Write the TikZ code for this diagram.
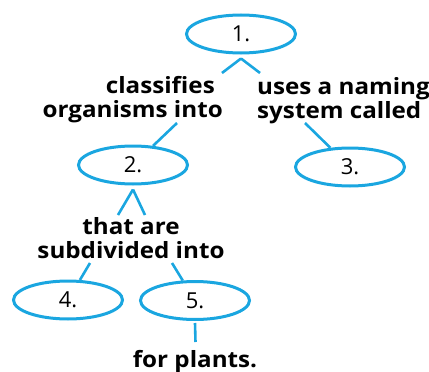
\documentclass[tikz,border=0pt]{standalone}
\usepackage{fontspec}
\setmainfont{Open Sans}[BoldFont={Open Sans Bold}]
\newfontfamily\labfont{Open Sans}[UprightFont={Open Sans Bold},FakeStretch=1.08]
\usetikzlibrary{shapes.geometric}
\definecolor{cblue}{HTML}{1AA6E0}
\begin{document}
\begin{tikzpicture}[x=1pt,y=-1pt,
  oval/.style={ellipse,draw=cblue,line width=3pt,minimum width=109pt,minimum height=38pt,inner sep=0pt,font=\fontsize{22}{24}\selectfont},
  link/.style={draw=cblue,line width=2.6pt},
  lab/.style={inner sep=0pt,font=\labfont\fontsize{22.4}{24}\selectfont}]
\useasboundingbox (0,0) rectangle (429,372);
\node[oval] (e1) at (241,34) {1.};
\node[oval] (e2) at (133,165) {2.};
\node[oval] (e3) at (350,167) {3.};
\node[oval] (e4) at (68,300) {4.};
\node[oval] (e5) at (195,300.5) {5.};
\node[lab,align=right,anchor=north east] (t1) at (223,76) {classifies\kern8pt\\organisms into};
\node[lab,align=left,anchor=north west] (t2) at (257,77) {uses a naming\\system called};
\node[lab,align=center,anchor=north] (t3) at (131,217) {that are\\subdivided into};
\node[lab,anchor=north] (t4) at (195,350) {for plants.};
\coordinate (a1) at (222,73);
\coordinate (a2) at (260,73);
\coordinate (b1) at (177,123);
\coordinate (b2) at (305,123);
\coordinate (c1) at (118,215);
\coordinate (c2) at (145,215);
\coordinate (d1) at (90,263);
\coordinate (d2) at (172,263);
\coordinate (f1) at (195.5,342);
\draw[link] ([yshift=-4pt]e1.south) -- (a1);
\draw[link] ([yshift=-4pt]e1.south) -- (a2);
\draw[link] (b1) -- (e2);
\draw[link] (b2) -- (e3);
\draw[link] ([yshift=-4pt]e2.south) -- (c1);
\draw[link] ([yshift=-4pt]e2.south) -- (c2);
\draw[link] (d1) -- (e4);
\draw[link] (d2) -- (e5);
\draw[link] ([yshift=-2pt]e5.south) -- (f1);
\end{tikzpicture}
\end{document}
